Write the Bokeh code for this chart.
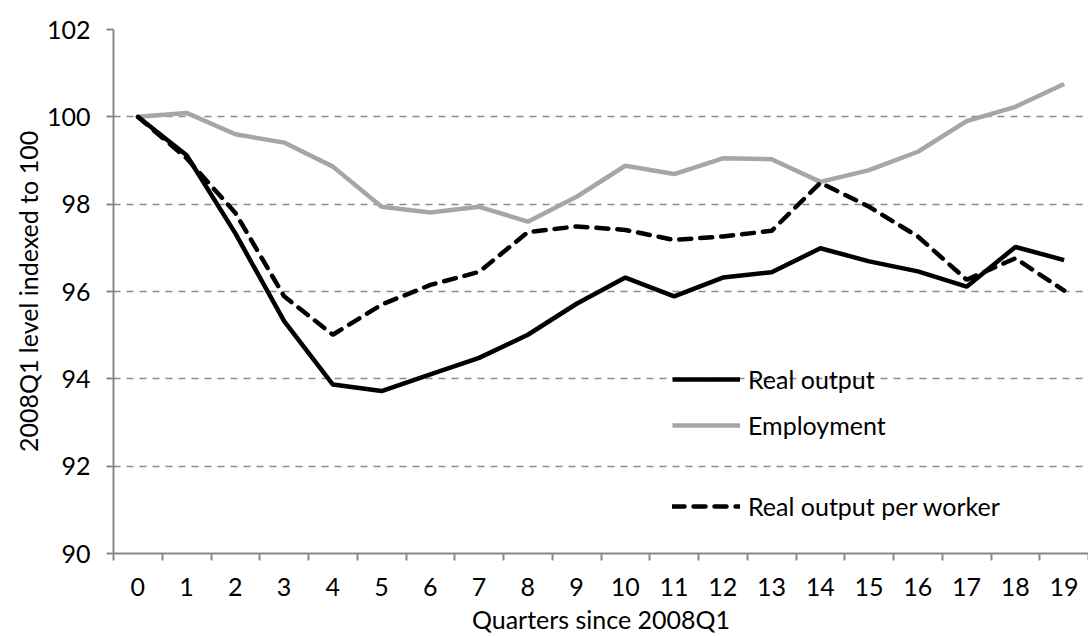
from bokeh.plotting import figure
from bokeh.models import (Range1d, FixedTicker, Legend, LegendItem, ColumnDataSource)
from bokeh.embed import file_html
from bokeh.resources import INLINE

quarters = list(range(20))
tick_labels = [str(q) for q in quarters]
real_output = [100.0, 99.12, 97.33, 95.32, 93.87, 93.72, 94.10, 94.48, 95.01, 95.72,
               96.32, 95.89, 96.32, 96.44, 96.99, 96.69, 96.46, 96.11, 97.02, 96.72]
employment = [100.0, 100.09, 99.60, 99.41, 98.86, 97.94, 97.81, 97.94, 97.60, 98.17,
              98.88, 98.69, 99.05, 99.03, 98.51, 98.78, 99.20, 99.90, 100.23, 100.75]
output_per_worker = [100.0, 99.05, 97.80, 95.89, 95.01, 95.70, 96.15, 96.45, 97.36, 97.49,
                     97.41, 97.18, 97.26, 97.39, 98.49, 97.94, 97.26, 96.27, 96.76, 96.02]
y_ticks = [90, 92, 94, 96, 98, 100, 102]
x_title = "Quarters since 2008Q1"
y_title = "2008Q1 level indexed to 100"

FONT = "Lato"
FS = "25px"

src = ColumnDataSource(dict(q=quarters, ro=real_output, em=employment, opw=output_per_worker))

p = figure(width=1088, height=636, output_backend="svg", toolbar_location=None,
           x_range=Range1d(-0.5, 19.5), y_range=Range1d(90, 102),
           min_border_left=113, min_border_right=0, min_border_top=29, min_border_bottom=83)
p.outline_line_color = None
p.background_fill_color = "white"

r_em = p.line("q", "em", source=src, line_color="#a6a6a6", line_width=4.5)
r_ro = p.line("q", "ro", source=src, line_color="black", line_width=4.5)
r_opw = p.line("q", "opw", source=src, line_color="black", line_width=4.5,
               line_dash="12 9", line_cap="round")

# axes
xt = FixedTicker(ticks=quarters, minor_ticks=[q - 0.5 for q in quarters] + [19.5])
p.xaxis.ticker = xt
p.xaxis.major_label_overrides = {q: l for q, l in zip(quarters, tick_labels)}
p.xaxis.major_tick_out = 0
p.xaxis.major_tick_in = 0
p.xaxis.minor_tick_out = 7
p.xaxis.minor_tick_in = 0
p.xaxis.minor_tick_line_color = "#878787"
p.xaxis.minor_tick_line_width = 2
p.xaxis.major_label_standoff = 17
p.xaxis.axis_label = x_title
p.xaxis.axis_label_standoff = 5

p.yaxis.ticker = FixedTicker(ticks=y_ticks)
p.yaxis.minor_tick_line_color = None
p.yaxis.major_tick_out = 7
p.yaxis.major_tick_in = 0
p.yaxis.major_tick_line_color = "#878787"
p.yaxis.major_tick_line_width = 2
p.yaxis.major_label_standoff = 16
p.yaxis.axis_label = y_title
p.yaxis.axis_label_standoff = 1

for ax in (p.xaxis, p.yaxis):
    ax.axis_line_color = "#878787"
    ax.axis_line_width = 2
    ax.major_label_text_font = FONT
    ax.major_label_text_font_size = FS
    ax.major_label_text_color = "black"
    ax.axis_label_text_font = FONT
    ax.axis_label_text_font_size = FS
    ax.axis_label_text_font_style = "normal"
    ax.axis_label_text_color = "black"

p.xgrid.grid_line_color = None
p.ygrid.ticker = FixedTicker(ticks=y_ticks)
p.ygrid.grid_line_color = "#8c8c8c"
p.ygrid.grid_line_width = 1.5
p.ygrid.grid_line_dash = "7 6"

def add_legend(label, r, y):
    lg = Legend(items=[LegendItem(label=label, renderers=[r])], location=(559, y),
                orientation="vertical", glyph_width=68, glyph_height=24,
                label_standoff=8, padding=0, margin=0, spacing=0,
                border_line_color=None, background_fill_alpha=0,
                label_text_font=FONT, label_text_font_size=FS, label_text_color="black")
    p.add_layout(lg, "center")

add_legend("Real output", r_ro, 159)
add_legend("Employment", r_em, 113)
add_legend("Real output per worker", r_opw, 32)

open("out.html", "w").write(file_html(p, INLINE))
